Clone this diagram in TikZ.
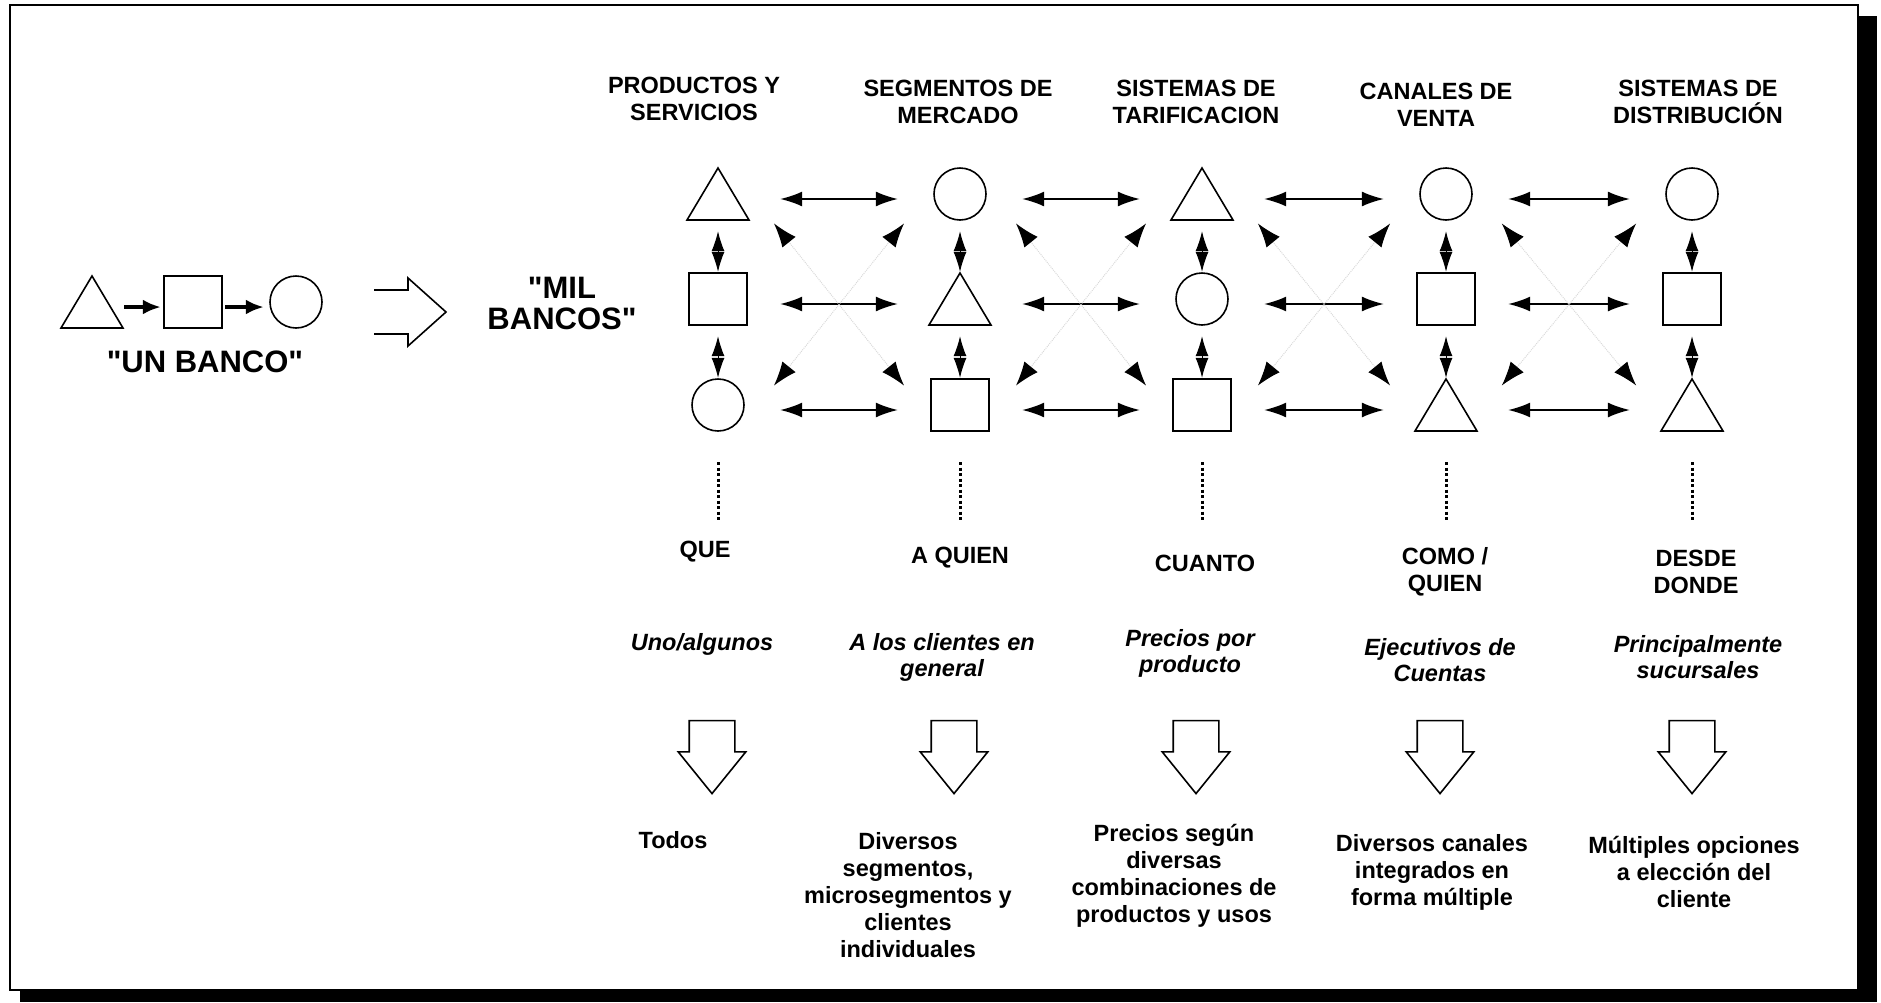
\documentclass[tikz,border=0pt]{standalone}
\usepackage{fontspec}
\setmainfont{Liberation Sans}
\usetikzlibrary{arrows.meta,shapes.arrows}

\begin{document}
\begin{tikzpicture}[x=1pt, y=-1pt,
          cell/.style={rectangle, minimum width=124pt, minimum height=64pt, inner sep=0pt},
          ucell/.style={rectangle, minimum width=64pt, minimum height=54pt, inner sep=0pt},
          shp/.style={line width=1.6pt, black},
          tri/.pic={\draw[shp] (-31,21) -- (31,21) -- (0,-31) -- cycle;},
          sq/.pic={\draw[shp] (-29,-31) rectangle (29,21);},
          circ/.pic={\draw[shp] (0,-5) circle[radius=26pt];},
          harr/.style={{Latex[length=22pt,width=15pt]}-{Latex[length=22pt,width=15pt]}, line width=1.6pt},
          varr/.style={{Latex[length=20pt,width=13pt]}-{Latex[length=20pt,width=13pt]}, line width=1pt},
          darr/.style={{Latex[length=24pt,width=17pt,color=black]}-{Latex[length=24pt,width=17pt,color=black]},
                      gray!30, densely dotted, line width=1pt, shorten <=-10pt, shorten >=-10pt},
          uarr/.style={-{Latex[length=18pt,width=15pt]}, line width=4pt},
          blk/.style={draw, line width=1.6pt, single arrow, rotate=-90, minimum height=73pt,
                      inner xsep=0pt, inner ysep=22pt, single arrow head extend=11pt, single arrow tip angle=78},
          dots/.style={line width=3pt, dash pattern=on 3pt off 2.5pt, shorten <=20pt},
          lab/.style={font=\bfseries\fontsize{23.5}{27}\selectfont, align=center, inner sep=0pt},
          ital/.style={font=\bfseries\itshape\fontsize{23.5}{26}\selectfont, align=center, inner sep=0pt},
          big/.style={font=\bfseries\fontsize{31}{31}\selectfont, align=center, inner sep=0pt}
        ]
        \useasboundingbox (0,0) rectangle (1881,1002);
        \draw[line width=2pt] (10,5) rectangle (1858,990);
        \fill (1859,16) rectangle (1877,1002);
        \fill (20,991) rectangle (1877,1002);

        \path (92,307)  node[ucell] (u1) {} pic {tri};
        \path (193,307) node[ucell] (u2) {} pic {sq};
        \path (296,307) node[ucell] (u3) {} pic {circ};
        \draw[uarr] (u1) -- (u2);
        \draw[uarr] (u2) -- (u3);
        \node[big] (unbanco) at (205,362) {\textquotedbl UN BANCO\textquotedbl};
        \draw[shp] (374,290) -- (408,290) -- (408,278) -- (446,312) -- (408,346) -- (408,334) -- (374,334);
        \node[big] (milbancos) at (562,303) {\textquotedbl MIL\\BANCOS\textquotedbl};

        \node[lab] (h1) at (694,99)  {PRODUCTOS Y\\SERVICIOS};
        \node[lab] (h2) at (958,102) {SEGMENTOS DE\\MERCADO};
        \node[lab] (h3) at (1196,102) {SISTEMAS DE\\TARIFICACION};
        \node[lab] (h4) at (1436,105) {CANALES DE\\VENTA};
        \node[lab] (h5) at (1698,102) {SISTEMAS DE\\DISTRIBUCIÓN};

        \path (718,199)  node[cell] (p1) {} pic {tri};
        \path (718,304)  node[cell] (p2) {} pic {sq};
        \path (718,410)  node[cell] (p3) {} pic {circ};
        \path (960,199)  node[cell] (s1) {} pic {circ};
        \path (960,304)  node[cell] (s2) {} pic {tri};
        \path (960,410)  node[cell] (s3) {} pic {sq};
        \path (1202,199) node[cell] (t1) {} pic {tri};
        \path (1202,304) node[cell] (t2) {} pic {circ};
        \path (1202,410) node[cell] (t3) {} pic {sq};
        \path (1446,199) node[cell] (c1) {} pic {circ};
        \path (1446,304) node[cell] (c2) {} pic {sq};
        \path (1446,410) node[cell] (c3) {} pic {tri};
        \path (1692,199) node[cell] (d1) {} pic {circ};
        \path (1692,304) node[cell] (d2) {} pic {sq};
        \path (1692,410) node[cell] (d3) {} pic {tri};

        \draw[varr] (p1) -- (p2);  \draw[varr] (p2) -- (p3);
        \draw[varr] (s1) -- (s2);  \draw[varr] (s2) -- (s3);
        \draw[varr] (t1) -- (t2);  \draw[varr] (t2) -- (t3);
        \draw[varr] (c1) -- (c2);  \draw[varr] (c2) -- (c3);
        \draw[varr] (d1) -- (d2);  \draw[varr] (d2) -- (d3);

        \draw[harr] (p1) -- (s1);  \draw[harr] (p2) -- (s2);  \draw[harr] (p3) -- (s3);
        \draw[harr] (s1) -- (t1);  \draw[harr] (s2) -- (t2);  \draw[harr] (s3) -- (t3);
        \draw[harr] (t1) -- (c1);  \draw[harr] (t2) -- (c2);  \draw[harr] (t3) -- (c3);
        \draw[harr] (c1) -- (d1);  \draw[harr] (c2) -- (d2);  \draw[harr] (c3) -- (d3);

        \draw[darr] (p1.south east) -- (s3.north west);  \draw[darr] (s1.south west) -- (p3.north east);
        \draw[darr] (s1.south east) -- (t3.north west);  \draw[darr] (t1.south west) -- (s3.north east);
        \draw[darr] (t1.south east) -- (c3.north west);  \draw[darr] (c1.south west) -- (t3.north east);
        \draw[darr] (c1.south east) -- (d3.north west);  \draw[darr] (d1.south west) -- (c3.north east);

        \draw[dots] (p3.south) -- ++(0,78);
        \draw[dots] (s3.south) -- ++(0,78);
        \draw[dots] (t3.south) -- ++(0,78);
        \draw[dots] (c3.south) -- ++(0,78);
        \draw[dots] (d3.south) -- ++(0,78);

        \node[lab] (q1) at (705,552)  {QUE};
        \node[lab] (q2) at (960,558)  {A QUIEN};
        \node[lab] (q3) at (1205,563) {CUANTO};
        \node[lab] (q4) at (1445,572) {COMO /\\QUIEN};
        \node[lab] (q5) at (1696,572) {DESDE\\DONDE};

        \node[ital] (i1) at (702,644)  {Uno/algunos};
        \node[ital] (i2) at (942,657)  {A los clientes en\\general};
        \node[ital] (i3) at (1190,653) {Precios por\\producto};
        \node[ital] (i4) at (1440,660) {Ejecutivos de\\Cuentas};
        \node[ital] (i5) at (1698,657) {Principalmente\\sucursales};

        \node[blk] (f1) at (712,743)  {};
        \node[blk] (f2) at (954,743)  {};
        \node[blk] (f3) at (1196,743) {};
        \node[blk] (f4) at (1440,743) {};
        \node[blk] (f5) at (1692,743) {};

        \node[lab] (b1) at (673,840)  {Todos};
        \node[lab] (b2) at (908,895)  {Diversos\\segmentos,\\microsegmentos y\\clientes\\individuales};
        \node[lab] (b3) at (1174,876) {Precios según\\diversas\\combinaciones de\\productos y usos};
        \node[lab] (b4) at (1432,872) {Diversos canales\\integrados en\\forma múltiple};
        \node[lab] (b5) at (1694,872) {Múltiples opciones\\a elección del\\cliente};
      \end{tikzpicture}
\end{document}
